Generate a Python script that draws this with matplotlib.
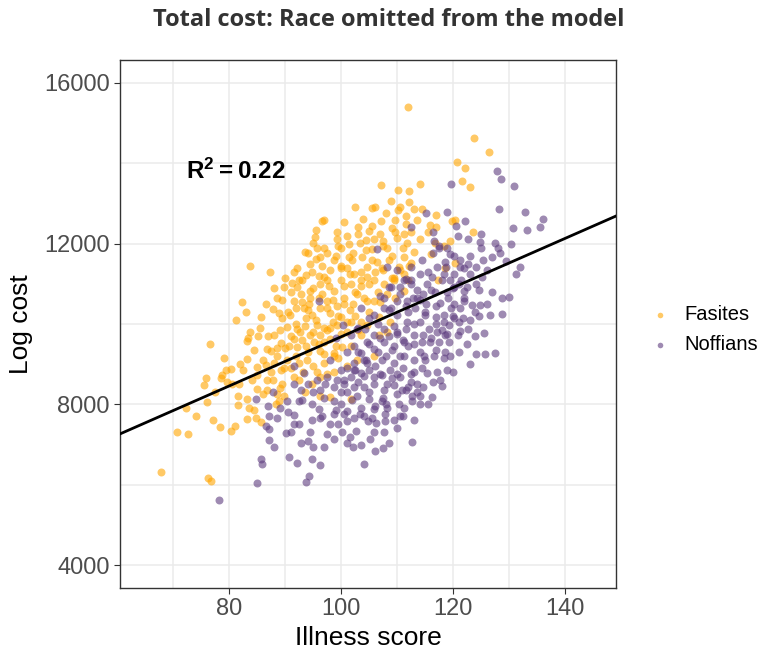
import numpy as np
import matplotlib
matplotlib.use('Agg')
import matplotlib.pyplot as plt

plt.rcParams['mathtext.fontset'] = 'custom'
plt.rcParams['mathtext.rm'] = 'Liberation Sans'
plt.rcParams['mathtext.bf'] = 'Liberation Sans:bold'

# Values (illness score, log cost)
fasites_x = [111.9, 123.8, 126.4, 120.7, 122.1, 121.6, 123.0, 123.6, 107.1, 110.1,
             112.1, 114.1, 108.9, 112.1, 105.5, 110.2, 113.0, 96.5, 103.9, 107.1,
             109.7, 111.5, 116.9, 115.8, 117.0, 119.8, 120.3, 99.3, 103.0, 105.0,
             109.6, 111.2, 114.0, 116.7, 118.3, 119.5, 95.3, 94.9, 99.9, 101.4,
             103.3, 105.6, 107.5, 111.8, 95.6, 96.3, 101.4, 103.7, 106.4, 109.0,
             111.2, 92.2, 93.7, 98.7, 99.9, 102.3, 104.6, 107.3, 110.4, 112.1,
             83.7, 87.3, 90.0, 94.8, 96.9, 97.8, 99.9, 101.7, 103.6, 105.8,
             89.8, 91.3, 92.9, 94.5, 96.0, 98.7, 100.5, 102.9, 104.6, 108.2,
             109.7, 111.2, 88.6, 82.3, 87.9, 88.9, 85.6, 81.2, 91.6, 93.4,
             94.8, 96.3, 98.1, 93.7, 100.0, 101.7, 104.6, 106.8, 108.8, 90.4,
             92.2, 95.7, 97.5, 99.3, 101.1, 83.8, 85.1, 83.4, 83.1, 76.6,
             83.1, 87.4, 89.2, 90.7, 92.2, 93.7, 95.1, 96.3, 98.7, 100.2,
             101.7, 88.6, 90.4, 91.9, 93.9, 96.9, 98.7, 101.1, 80.3, 79.4,
             78.8, 78.5, 75.8, 75.5, 79.6, 81.7, 82.5, 85.0, 86.5, 85.0,
             86.8, 87.9, 89.8, 89.5, 91.6, 93.1, 95.7, 96.3, 98.7, 85.0,
             86.8, 88.6, 89.8, 83.1, 81.5, 72.3, 70.6, 72.6, 77.2, 78.3,
             80.4, 81.1, 83.1, 84.4, 84.8, 85.6, 88.3, 88.9, 96.3, 98.1,
             101.7, 67.8, 76.3, 76.7, 102.9, 105.8, 106.8, 108.2, 109.4, 111.2,
             112.4, 96.3, 103.5, 120.3, 118.5, 117.3, 94.0, 95.7, 97.5, 102.2,
             104.6, 93.0, 96.3, 92.2, 97.5, 99.3, 102.2, 94.2, 90.9, 92.7,
             94.5, 91.6, 88.0, 86.8, 96.9, 98.1, 103.5, 105.8, 107.6, 89.2,
             94.8, 92.5, 88.0, 105.8, 108.2, 101.1, 99.3]
fasites_y = [15405, 14635, 14276, 14020, 13890, 13565, 13410, 12280, 13455, 13343,
             13310, 13480, 13050, 13035, 12897, 12837, 12865, 12555, 12607, 12565,
             12600, 12500, 12710, 12470, 12410, 12556, 12580, 12300, 12410, 12310,
             12280, 12240, 12110, 12025, 11940, 12070, 12154, 12025, 11900, 11983,
             12025, 11870, 12070, 12025, 11615, 11666, 11666, 11666, 11555, 11683,
             11666, 11384, 11213, 11598, 11384, 11256, 11170, 11384, 11427, 11452,
             11452, 11300, 11153, 11300, 11170, 10956, 11085, 11000, 11085, 11085,
             10913, 11016, 10742, 10828, 10657, 10828, 10657, 10742, 10571, 10742,
             10657, 10828, 10657, 10546, 10366, 10272, 10169, 10100, 10571, 10400,
             10229, 10400, 10272, 10143, 10186, 10058, 9972, 10186, 10058, 9930,
             9887, 9972, 9844, 9972, 9800, 9800, 9698, 9656, 9587, 9493,
             9125, 9330, 9527, 9459, 9416, 9459, 9545, 9330, 9288, 9416,
             9459, 9202, 9116, 9202, 9116, 9030, 9202, 8945, 8886, 8860,
             8731, 8645, 8663, 8474, 8560, 8517, 8860, 8920, 8988, 8731,
             8603, 8603, 8903, 8517, 8689, 8817, 8817, 8689, 8817, 8389,
             8346, 8261, 8218, 8133, 7987, 7919, 7311, 7251, 7602, 7440,
             7346, 7474, 7637, 7850, 7663, 7560, 8004, 8090, 8218, 8176,
             8133, 6319, 6165, 6105, 9116, 9202, 9715, 9800, 11085, 11256,
             11512, 9715, 10058, 11512, 11384, 11085, 11769, 11897, 11769, 11769,
             11427, 11085, 11000, 10913, 10571, 10443, 10486, 10486, 10229, 9800,
             9715, 9630, 9715, 9373, 9545, 9630, 9715, 10571, 10999, 8860,
             8517, 9030, 9030, 12110, 11897, 11384, 12110]

# more Fasites points from the dense core of the cloud
fasites_core = [(90.5, 10300), (91.0, 10800), (92.5, 11100), (93.0, 10550), (93.5, 9950),
                (94.0, 10350), (94.5, 11500), (95.0, 10900), (95.5, 10100), (96.0, 11200),
                (96.5, 10750), (97.0, 9900), (97.0, 11900), (97.5, 10400), (98.0, 11350),
                (98.5, 10600), (99.0, 11700), (99.5, 10200), (100.0, 11450), (100.5, 10950),
                (101.0, 12200), (101.5, 10350), (102.0, 11600), (102.5, 10800), (103.0, 12250),
                (103.5, 11300), (104.0, 10650), (104.5, 11850), (105.0, 11000), (105.5, 12450),
                (106.0, 11300), (106.5, 10800), (107.0, 12250), (107.5, 11350), (108.0, 12750),
                (108.5, 11600), (109.0, 12400), (109.5, 11150), (110.0, 12150), (110.5, 12900),
                (111.0, 11900), (111.5, 12700), (112.5, 12300), (113.0, 11800), (113.5, 12600),
                (114.5, 12850), (115.5, 12300), (116.0, 11750), (89.0, 9850), (89.5, 10150),
                (90.0, 9400), (91.0, 9700), (92.0, 10000), (93.0, 9600), (94.0, 9300),
                (95.0, 9800), (96.0, 9500), (97.0, 9250), (98.0, 9900), (99.0, 9450),
                (100.0, 9750), (101.0, 10050), (87.0, 9700), (86.0, 9100), (87.5, 8800),
                (88.5, 9400), (84.5, 9350), (82.0, 9000), (80.5, 8500), (84.0, 8600),
                (86.0, 8250), (91.0, 8900), (92.5, 8600), (95.0, 8950), (97.5, 8750),
                (99.5, 9150), (103.0, 9850), (105.0, 10300), (107.0, 10550), (109.0, 11150),
                (110.5, 11350), (112.0, 11100), (89.5, 10600), (91.5, 11300), (93.5, 11800),
                (95.5, 12350), (97.0, 12600), (100.5, 12550), (102.5, 12900), (104.5, 12100),
                (106.0, 12900), (92.0, 10400), (94.5, 10650), (97.5, 11100), (99.5, 11950),
                (101.5, 11250), (103.5, 10950), (105.5, 11600), (107.5, 11950), (96.5, 11450),
                (98.5, 10050), (100.5, 10500), (102.5, 10200), (88.0, 10900), (86.5, 10500),
                (85.5, 9900), (83.0, 10300), (79.0, 9150), (77.5, 8300), (76.0, 8050),
                (74.0, 7700), (81.5, 8200), (83.5, 7900), (89.0, 8400), (93.5, 8300)]

noffians_x = [127.8, 128.5, 130.8, 119.7, 128.2, 132.8, 136.0, 135.6, 133.2, 130.7,
              115.2, 118.9, 122.2, 112.4, 116.6, 120.8, 122.7, 124.9, 124.8, 127.5,
              130.3, 128.4, 126.9, 129.4, 131.9, 131.2, 124.6, 128.7, 130.0, 128.8,
              124.7, 126.6, 125.5, 124.1, 125.7, 127.5, 122.5, 122.6, 121.2, 119.3,
              123.1, 124.8, 123.3, 121.3, 121.7, 124.1, 123.1, 124.1, 122.7, 121.3,
              121.2, 120.1, 121.4, 121.9, 120.1, 118.3, 118.8, 119.5, 117.1, 116.2,
              115.3, 116.8, 119.1, 117.6, 120.1, 115.1, 113.6, 112.4, 111.2, 110.6,
              108.6, 110.0, 113.2, 114.9, 117.0, 118.3, 117.1, 118.5, 115.9, 114.4,
              113.0, 111.5, 110.0, 107.6, 111.2, 109.4, 107.6, 105.8, 104.6, 105.8,
              103.5, 102.3, 102.3, 104.6, 107.3, 109.4, 111.2, 113.0, 114.8, 116.6,
              118.3, 119.5, 118.9, 117.1, 115.4, 113.0, 112.4, 110.6, 108.8, 107.3,
              104.9, 103.5, 101.7, 99.9, 100.5, 102.3, 104.0, 105.8, 107.6, 109.4,
              110.9, 112.7, 114.1, 116.3, 117.6, 107.3, 104.9, 102.9, 101.1, 98.7,
              97.1, 95.7, 94.0, 92.8, 91.6, 98.7, 99.9, 103.5, 105.8, 108.2,
              110.4, 112.7, 113.0, 110.6, 107.9, 107.9, 106.3, 104.8, 103.3, 101.1,
              100.5, 98.0, 96.3, 94.8, 91.5, 91.5, 90.1, 87.0, 87.2, 87.2,
              87.2, 88.5, 84.8, 87.9, 90.4, 92.5, 94.8, 96.0, 92.8, 94.0,
              95.0, 96.9, 97.5, 98.7, 100.2, 101.1, 102.1, 102.6, 105.2, 107.4,
              112.6, 104.0, 94.8, 96.2, 90.7, 92.2, 85.6, 85.9, 85.0, 93.8,
              94.3, 78.1, 106.4, 108.2, 110.0, 111.5, 108.9, 107.6, 105.8, 104.3,
              102.9, 101.7, 103.5, 96.0, 100.4, 91.6, 93.4, 116.5, 118.9, 120.1,
              117.4, 112.4, 114.1, 114.7, 112.9, 111.8, 114.0, 115.7, 117.5, 119.2,
              120.9, 119.7, 121.9, 122.5, 125.1, 125.4, 120.1, 118.3, 110.0, 108.9,
              107.6, 111.8, 114.7, 102.3, 104.0, 105.8, 108.2, 110.0, 112.0, 113.6,
              114.6, 97.5, 99.3, 96.3, 101.1, 102.3, 98.7, 105.8, 107.6, 110.0,
              111.2, 114.1]
noffians_y = [13797, 13608, 13437, 13480, 12864, 12796, 12607, 12411, 12351, 12385,
              12770, 12796, 12556, 12410, 12068, 12197, 12111, 12240, 12043, 12025,
              12000, 11769, 11666, 11572, 11427, 11256, 10845, 10640, 10674, 10255,
              10203, 10229, 9784, 9262, 9262, 9288, 9493, 9887, 9827, 9972,
              10092, 10468, 10468, 10400, 10143, 11000, 11256, 11427, 11487, 11598,
              11427, 11256, 11085, 10828, 10913, 11256, 11427, 11085, 11427, 11170,
              11000, 10785, 10657, 10529, 10486, 10486, 10657, 11085, 11085, 10913,
              10913, 10571, 10400, 10229, 10186, 10058, 9800, 9715, 9545, 9545,
              9715, 9887, 9800, 9887, 9545, 9459, 9545, 9715, 9545, 9373,
              9288, 9459, 9030, 9030, 9116, 9030, 9202, 9116, 9202, 9202,
              9159, 9202, 8860, 8817, 8774, 8817, 8560, 8689, 8860, 8731,
              8860, 8774, 8689, 8860, 8517, 8431, 8431, 8517, 8346, 8475,
              8346, 8218, 8218, 8176, 8603, 8090, 8133, 8218, 8304, 8431,
              8517, 8603, 8517, 8346, 8517, 8090, 8004, 7919, 7876, 7919,
              8004, 8090, 7620, 7705, 7748, 7594, 7534, 7594, 7748, 7833,
              7748, 7508, 7663, 7603, 7731, 7508, 7277, 7962, 7705, 7380,
              7114, 7663, 8133, 8304, 8090, 8090, 8004, 7876, 7037, 7080,
              6943, 6935, 7260, 7149, 7320, 7037, 6935, 7346, 7149, 6926,
              7063, 6507, 6635, 6481, 6695, 6550, 6635, 6507, 6036, 6079,
              6207, 5609, 11871, 11427, 11341, 11127, 10913, 10400, 10229, 9887,
              9887, 9715, 10400, 10571, 9972, 8946, 8774, 11769, 11897, 11683,
              11940, 11427, 11256, 10742, 10657, 10571, 10058, 9887, 9545, 9545,
              9716, 10400, 10571, 10913, 11170, 11598, 10143, 10229, 10229, 10400,
              10657, 10058, 9716, 8860, 9116, 8689, 8517, 8260, 8431, 8517,
              8431, 8689, 8603, 8346, 7577, 7663, 7748, 7320, 7320, 7406,
              7919, 8004]

# more Noffians points from the dense core of the cloud
noffians_core = [(103.0, 9300), (104.0, 8700), (105.0, 9500), (106.0, 8950), (107.0, 9650),
                 (108.0, 9200), (109.0, 8650), (110.0, 9750), (111.0, 8900), (112.0, 9450),
                 (113.0, 10000), (114.0, 9300), (115.0, 10300), (116.0, 9650), (117.0, 10450),
                 (118.0, 9850), (119.0, 10800), (120.0, 10200), (121.0, 11000), (122.0, 10650),
                 (123.0, 11700), (124.0, 10300), (125.0, 11900), (126.0, 11350), (127.0, 10800),
                 (128.0, 11900), (100.0, 8300), (101.0, 8900), (102.0, 8100), (103.0, 8550),
                 (104.0, 7700), (105.0, 8300), (106.0, 7950), (107.0, 8750), (108.0, 8000),
                 (109.0, 9350), (110.0, 8750), (111.0, 9600), (112.0, 10300), (113.0, 9500),
                 (114.0, 10600), (115.0, 9100), (116.0, 10850), (117.0, 9350), (118.0, 11100),
                 (119.0, 9750), (120.0, 10900), (121.0, 10050), (122.0, 11400), (106.5, 10000),
                 (108.5, 10350), (110.5, 10750), (112.5, 11000), (114.5, 11600), (116.5, 12300),
                 (118.5, 11550), (120.5, 12450), (109.5, 9950), (111.5, 10450), (113.5, 10850),
                 (115.5, 11300), (117.5, 11900), (119.5, 11750), (99.0, 7850), (97.0, 8150),
                 (95.0, 8300), (93.0, 8100), (91.0, 7300), (89.0, 7900), (88.0, 6950),
                 (86.5, 7450), (99.5, 7500), (101.5, 7200), (103.5, 7000), (105.5, 7650),
                 (107.5, 8150), (109.5, 7600), (111.5, 8350), (100.5, 8600), (102.5, 8850),
                 (104.5, 9100), (106.5, 9300), (108.5, 9700), (110.5, 9200), (112.5, 8750),
                 (114.5, 8900), (116.5, 8550), (118.5, 9300), (98.0, 9100), (99.0, 9650),
                 (101.0, 9300), (103.0, 9900), (105.0, 10150), (107.0, 10700), (96.5, 7700),
                 (94.5, 7300), (92.5, 7500), (90.5, 7800), (106.0, 6850), (108.5, 7050),
                 (111.0, 7700), (113.5, 8300), (124.0, 9700), (126.0, 10500), (123.0, 9000),
                 (121.0, 9300), (120.0, 8800), (118.0, 8450), (115.5, 8000), (117.0, 10000)]

# fitted line (pooled, race omitted)
fit_intercept = 3562
fit_slope = 61.2
r_squared = 0.22

x_ticks = [80, 100, 120, 140]
y_ticks = [4000, 8000, 12000, 16000]

orange = '#FFA500'
purple = '#5E3C7F'

fx = fasites_x + [p[0] for p in fasites_core]
fy = fasites_y + [p[1] for p in fasites_core]
nx = noffians_x + [p[0] for p in noffians_core]
ny = noffians_y + [p[1] for p in noffians_core]

fig = plt.figure(figsize=(7.59, 6.53), dpi=100)
ax = fig.add_axes([120 / 759, 1 - 588 / 653, 496 / 759, 528 / 653])

ax.set_xlim(60.5, 149.1)
ax.set_ylim(3430, 16570)
ax.set_xticks(x_ticks)
ax.set_yticks(y_ticks)
ax.set_xticks([70, 90, 110, 130], minor=True)
ax.set_yticks([6000, 10000, 14000], minor=True)
ax.grid(True, which='major', color='#EBEBEB', linewidth=1.1)
ax.grid(True, which='minor', color='#EBEBEB', linewidth=1.1)
ax.set_axisbelow(True)
ax.tick_params(which='minor', length=0)
ax.tick_params(which='major', length=4, color='#333333', labelcolor='#4D4D4D',
               labelsize=17)
for lab in ax.get_xticklabels() + ax.get_yticklabels():
    lab.set_family('Liberation Sans')
for sp in ax.spines.values():
    sp.set_color('#333333')
    sp.set_linewidth(1.0)

ax.scatter(fx, fy, s=33, color=orange, alpha=0.6, linewidths=0,
           label='Fasites', zorder=2)
ax.scatter(nx, ny, s=33, color=purple, alpha=0.6, linewidths=0,
           label='Noffians', zorder=2)

xs = np.array(ax.get_xlim())
ax.plot(xs, fit_intercept + fit_slope * xs, color='black', linewidth=2, zorder=3)
ax.set_xlim(60.5, 149.1)

ax.text(72.3, 13620, r'$\mathbf{R^2 = %.2f}$' % r_squared, fontsize=17.5,
        color='black', zorder=4)

ax.set_xlabel('Illness score', fontsize=19, family='Liberation Sans', labelpad=4)
ax.set_ylabel('Log cost', fontsize=19, family='Liberation Sans', labelpad=8)

fig.text(389 / 759, 1 - 20 / 653, 'Total cost: Race omitted from the model',
         ha='center', va='center', fontsize=17, fontweight='bold',
         family='Open Sans', color='#333333')

leg = ax.legend(loc='center left', bbox_to_anchor=(1.012, 0.489), frameon=False,
                prop={'family': 'Liberation Sans', 'size': 14.5}, markerscale=0.7,
                handletextpad=0.2, labelspacing=0.55)

plt.savefig('out.png', dpi=100)
